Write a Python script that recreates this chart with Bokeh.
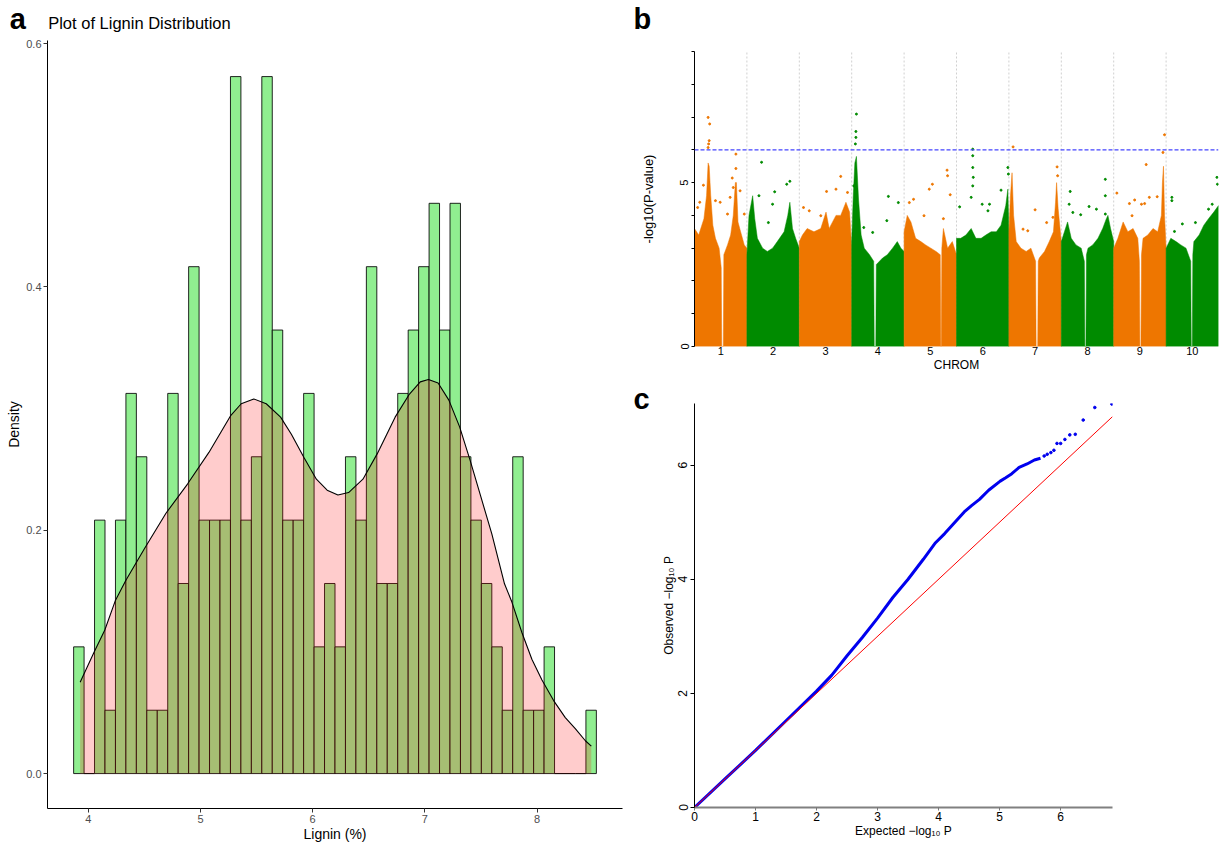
import math
from bokeh.plotting import figure
from bokeh.layouts import row, column
from bokeh.models import Range1d, FixedTicker, Span, NumeralTickFormatter, Title
from bokeh.core.properties import value
from bokeh.embed import file_html
from bokeh.resources import INLINE

FONT = "Liberation Sans"

# ---------------- Panel a : lignin histogram + density ----------------
lignin_bin_start = 3.869
lignin_bin_width = 0.0932
lignin_counts = [2, 0, 4, 1, 4, 6, 5, 1, 1, 6,
                 3, 8, 4, 4, 4, 11, 4, 5, 11, 7,
                 4, 4, 6, 2, 3, 2, 5, 4, 8, 3,
                 3, 6, 7, 8, 9, 7, 9, 5, 4, 3,
                 2, 1, 5, 1, 1, 2, 0, 0, 0, 1]
density_x = [3.927, 4.052, 4.147, 4.240, 4.335, 4.501, 4.692, 4.884, 5.075, 5.267,
             5.363, 5.475, 5.586, 5.714, 5.810, 5.921, 6.033, 6.129, 6.225, 6.320,
             6.448, 6.576, 6.735, 6.863, 6.959, 7.032, 7.118, 7.214, 7.310, 7.405,
             7.501, 7.597, 7.710, 7.776, 7.865, 7.954, 8.044, 8.148, 8.252, 8.341,
             8.431, 8.484]
density_y = [0.075, 0.100, 0.118, 0.142, 0.159, 0.185, 0.214, 0.238, 0.264, 0.294,
             0.304, 0.308, 0.304, 0.293, 0.279, 0.260, 0.242, 0.233, 0.229, 0.231,
             0.242, 0.263, 0.293, 0.312, 0.322, 0.324, 0.321, 0.307, 0.285, 0.257,
             0.227, 0.197, 0.156, 0.141, 0.116, 0.094, 0.077, 0.060, 0.046, 0.037,
             0.027, 0.0225]
a_xticks = [4, 5, 6, 7, 8]
a_yticks = [0.0, 0.2, 0.4, 0.6]

# ---------------- Panel b : Manhattan plot ----------------
chrom_labels = [1, 2, 3, 4, 5, 6, 7, 8, 9, 10]
chrom_colors = ["#EE7600", "#008B00"]
# upper envelope of the dense SNP cloud: position along chromosome (%) and -log10(P)
band_pct = {
    1: [0, 8, 18, 23, 26, 28, 31, 35, 40, 47, 51, 52, 55, 56, 63, 69, 74, 78, 80, 83, 88, 95, 100],
    2: [0, 4, 11, 15, 20, 30, 39, 49, 58, 71, 78, 82, 87, 93, 100],
    3: [0, 6, 15, 28, 41, 51, 57, 70, 79, 89, 96, 100],
    4: [0, 3, 6, 9, 13, 18, 24, 34, 42, 43, 46, 47, 59, 68, 78, 87, 94, 100],
    5: [0, 6, 13, 22, 32, 41, 51, 61, 69, 70, 71, 72, 75, 83, 92, 100],
    6: [0, 8, 18, 28, 37, 47, 56, 66, 76, 85, 94, 98, 100],
    7: [0, 3, 6, 9, 14, 23, 33, 42, 51, 52, 55, 56, 58, 68, 77, 85, 89, 91, 94, 100],
    8: [0, 6, 12, 19, 28, 38, 44, 45, 47, 48, 51, 60, 70, 79, 86, 89, 94, 100],
    9: [0, 8, 18, 27, 37, 46, 49, 50, 52, 53, 56, 65, 75, 84, 91, 93, 95, 97, 100],
    10: [0, 9, 19, 28, 38, 47, 48, 50, 51, 53, 63, 72, 81, 91, 100],
}
band_top = {
    1: [3.6, 3.4, 3.9, 4.6, 5.6, 5.5, 4.6, 3.7, 3.3, 3.0, 2.4, 0, 0, 2.8, 3.1, 3.4, 4.0, 5.0, 5.0, 3.8, 3.5, 3.1, 3.0],
    2: [2.8, 4.0, 4.6, 3.9, 3.3, 3.0, 2.9, 3.0, 3.2, 3.5, 4.0, 4.4, 3.6, 3.3, 3.0],
    3: [3.2, 3.4, 3.6, 3.5, 3.6, 4.1, 3.6, 4.0, 4.0, 4.4, 4.1, 3.0],
    4: [3.2, 4.6, 5.6, 5.8, 4.5, 3.4, 3.0, 2.8, 2.6, 0, 0, 2.5, 2.7, 2.8, 3.0, 3.2, 3.0, 2.9],
    5: [3.5, 4.0, 3.8, 3.3, 3.2, 3.1, 3.0, 2.9, 2.8, 0, 0, 3.0, 3.6, 3.0, 3.2, 2.8],
    6: [3.3, 3.3, 3.4, 3.6, 3.3, 3.3, 3.4, 3.5, 3.5, 3.7, 4.3, 4.8, 3.5],
    7: [3.5, 4.6, 5.3, 4.0, 3.2, 3.0, 2.9, 3.0, 2.6, 0, 0, 2.6, 2.7, 2.9, 3.2, 3.5, 4.4, 5.0, 4.2, 3.2],
    8: [3.2, 3.5, 3.8, 3.3, 3.1, 3.0, 2.6, 0, 0, 2.8, 3.0, 3.1, 3.3, 3.6, 3.9, 4.0, 3.6, 3.2],
    9: [3.0, 3.3, 3.8, 3.5, 3.6, 3.3, 2.6, 0, 0, 2.8, 3.3, 3.4, 3.6, 3.5, 4.0, 5.0, 5.5, 4.0, 3.0],
    10: [3.0, 3.3, 3.2, 3.1, 3.0, 2.6, 0, 0, 2.8, 3.2, 3.4, 3.7, 3.9, 4.1, 4.3],
}
# isolated SNPs above the cloud
snp_pct = {
    1: [26, 29, 28, 27, 26, 17, 10, 6, 40, 49, 63, 72, 79, 79, 74, 87, 95, 68],
    2: [28, 53, 76, 82, 49, 23, 41],
    3: [52, 70, 79, 92, 8, 19, 41],
    4: [9, 8, 8, 7, 4, 70, 89, 23, 40, 67],
    5: [10, 18, 48, 54, 82, 83, 88, 75, 38],
    6: [31, 31, 31, 32, 31, 28, 6, 49, 63, 98, 99, 85, 60],
    7: [8, 50, 92, 93, 72, 84, 27, 36],
    8: [17, 15, 84, 84, 53, 67, 37, 22, 84],
    9: [97, 94, 62, 83, 68, 6, 30, 40, 53, 59, 35],
    10: [11, 11, 97, 98, 88, 81, 31, 16, 56],
}
snp_logp = {
    1: [6.99, 6.79, 6.28, 6.18, 6.07, 4.92, 4.40, 4.24, 4.45, 4.40, 4.04, 5.14, 5.87, 5.43, 4.85, 4.75, 4.04, 4.55],
    2: [5.62, 4.72, 4.95, 5.04, 4.34, 4.60, 3.78],
    3: [4.73, 4.80, 5.19, 4.70, 4.24, 4.14, 3.99],
    4: [7.09, 6.56, 6.38, 6.18, 4.90, 4.58, 4.39, 3.63, 3.48, 3.84],
    5: [4.39, 4.49, 4.80, 4.95, 5.38, 5.21, 4.63, 3.90, 3.99],
    6: [6.02, 5.82, 5.46, 5.16, 4.90, 4.55, 4.26, 4.34, 4.34, 5.46, 5.26, 4.77, 4.14],
    7: [6.09, 4.17, 5.48, 5.21, 3.78, 3.94, 3.58, 3.53],
    8: [4.73, 4.34, 5.10, 4.60, 4.27, 4.19, 4.02, 4.09, 4.04],
    9: [6.46, 5.92, 5.55, 4.57, 4.55, 4.68, 4.36, 4.47, 4.34, 4.36, 3.99],
    10: [4.55, 4.45, 5.16, 4.95, 4.34, 4.19, 3.74, 3.51, 3.78],
}
gwas_threshold = 6.0
b_yticks = [0, 1, 2, 3, 4, 5, 6, 7, 8, 9]

# ---------------- Panel c : QQ plot ----------------
qq_expected = [0, 0.5, 1.0, 1.5, 2.0, 2.25, 2.5, 2.75, 3.0, 3.25, 3.5, 3.75, 3.95, 4.1,
               4.26, 4.42, 4.54, 4.67, 4.82, 5.01, 5.1, 5.2, 5.32, 5.45, 5.57, 5.67]
qq_observed = [0, 0.5, 1.0, 1.52, 2.04, 2.32, 2.66, 2.98, 3.32, 3.68, 4.0, 4.35, 4.64, 4.80,
               4.99, 5.18, 5.29, 5.4, 5.56, 5.72, 5.78, 5.85, 5.96, 6.02, 6.09, 6.12]
qq_tail_expected = [5.73, 5.78, 5.84, 5.89, 5.94, 6.0, 6.07, 6.15, 6.24, 6.37, 6.56, 6.84]
qq_tail_observed = [6.16, 6.19, 6.22, 6.26, 6.38, 6.38, 6.45, 6.53, 6.54, 6.79, 7.01, 7.07]
qq_max = 6.85


def style_axis(ax, size="11px", color="#4D4D4D", tick_color="#333333", tick_out=4, standoff=2,
               label=None, label_size="14px", label_standoff=0):
    ax.axis_line_color = "black"
    ax.axis_line_width = 1
    ax.major_tick_line_color = tick_color
    ax.major_tick_out = tick_out
    ax.major_tick_in = 0
    ax.minor_tick_line_color = None
    ax.major_label_text_font = FONT
    ax.major_label_text_font_size = size
    ax.major_label_text_color = color
    ax.major_label_standoff = standoff
    if label is not None:
        ax.axis_label = label
        ax.axis_label_text_font = FONT
        ax.axis_label_text_font_size = label_size
        ax.axis_label_text_font_style = "normal"
        ax.axis_label_text_color = "black"
        ax.axis_label_standoff = label_standoff


def base_fig(**kw):
    p = figure(output_backend="svg", toolbar_location=None, **kw)
    p.xgrid.visible = False
    p.ygrid.visible = False
    p.outline_line_color = None
    p.background_fill_color = "white"
    p.border_fill_color = "white"
    p.frame_align = False
    return p


def text_strip(w, h, xs, ys, texts, sizes, styles):
    s = base_fig(width=w, height=h, x_range=Range1d(0, w), y_range=Range1d(h, 0),
                 x_axis_location=None, y_axis_location=None,
                 min_border_left=0, min_border_right=0, min_border_top=0, min_border_bottom=0)
    for x, y, t, fs, st in zip(xs, ys, texts, sizes, styles):
        s.text(x=[x], y=[y], text=[t], text_font=value(FONT), text_font_size=value(fs),
               text_font_style=value(st), text_color="black",
               text_align="left", text_baseline="middle")
    return s


# ======== Panel a ========
strip_a = text_strip(628, 34, [9.3, 47.7], [18.0, 22.6], ["a", "Plot of Lignin Distribution"],
                     ["29px", "16.5px"], ["bold", "normal"])

ax0, ax1 = 3.636, 8.762
ay0, ay1 = -0.0287, 0.6026
pa = base_fig(width=628, height=810, x_range=Range1d(ax0, ax1), y_range=Range1d(ay0, ay1),
              min_border_left=47, min_border_right=6, min_border_top=6, min_border_bottom=36)
n_total = sum(lignin_counts)
bin_left = [lignin_bin_start + i * lignin_bin_width for i in range(len(lignin_counts))]
bin_right = [b + lignin_bin_width for b in bin_left]
bin_dens = [c / (n_total * lignin_bin_width) for c in lignin_counts]
pa.quad(left=bin_left, right=bin_right, bottom=0, top=bin_dens,
        fill_color="#90EE90", line_color="black", line_width=1, line_alpha=0.85)
pa.varea(x=density_x, y1=[0] * len(density_x), y2=density_y, fill_color="red", fill_alpha=0.2)
pa.line(density_x, density_y, line_color="black", line_width=1.1)
pa.xaxis.ticker = FixedTicker(ticks=a_xticks)
pa.yaxis.ticker = FixedTicker(ticks=a_yticks)
pa.yaxis.formatter = NumeralTickFormatter(format="0.0")
style_axis(pa.xaxis[0], label="Lignin (%)", label_size="14px", label_standoff=0)
style_axis(pa.yaxis[0], label="Density", label_size="14px", label_standoff=1)

# ======== Panel b ========
strip_b = text_strip(596, 48, [5], [18.0], ["b"], ["29px"], ["bold"])

pb = base_fig(width=596, height=332, x_range=Range1d(0.5, 10.5), y_range=Range1d(0, 9),
              min_border_left=66, min_border_right=6, min_border_top=3, min_border_bottom=34)
bounds = [c + 0.5 for c in chrom_labels[:-1]]
pb.segment(x0=bounds, y0=0, x1=bounds, y1=9, line_color="#D0D0D0", line_dash="2 2", line_width=1)
for c in chrom_labels:
    col = chrom_colors[(c - 1) % 2]
    xs = [c - 0.5] + [c - 0.5 + q / 100.0 for q in band_pct[c]] + [c + 0.5]
    ys = [0] + band_top[c] + [0]
    pb.patch(xs, ys, fill_color=col, line_color=col, line_width=0.5)
    pb.scatter([c - 0.5 + q / 100.0 for q in snp_pct[c]], snp_logp[c], size=2.0,
               fill_color=col, line_color=col)
pb.add_layout(Span(location=gwas_threshold, dimension="width", line_color="#4444FF",
                   line_dash="4 2", line_width=1.2))
pb.xaxis.ticker = FixedTicker(ticks=chrom_labels)
pb.yaxis.ticker = FixedTicker(ticks=b_yticks)
pb.yaxis.major_label_overrides = {t: "" for t in b_yticks if t not in (0, 5)}
style_axis(pb.xaxis[0], size="11px", color="black", tick_out=0, standoff=0,
           label="CHROM", label_size="12px", label_standoff=0)
pb.xaxis.axis_line_color = None
pb.xaxis.major_tick_line_color = None
style_axis(pb.yaxis[0], size="11px", color="black", tick_color="black", tick_out=3, standoff=3,
           label="-log10(P-value)", label_size="13px", label_standoff=22)
pb.yaxis.major_label_orientation = "vertical"

# ======== Panel c ========
pc = base_fig(width=596, height=464, x_range=Range1d(0, qq_max), y_range=Range1d(0, 7.08),
              min_border_left=66, min_border_right=112, min_border_top=23, min_border_bottom=37)
pc.title = Title(text="c", align="left", offset=-61, standoff=-22, text_font=FONT,
                 text_font_size="29px", text_font_style="bold", text_color="black")
pc.line(qq_expected, qq_observed, line_color="#0000EE", line_width=3)
pc.scatter(qq_tail_expected, qq_tail_observed, size=2.6, fill_color="#0000EE", line_color="#0000EE")
pc.line([0, qq_max], [0, qq_max], line_color="red", line_width=1)
pc.xaxis.ticker = FixedTicker(ticks=[0, 1, 2, 3, 4, 5, 6])
pc.yaxis.ticker = FixedTicker(ticks=[0, 2, 4, 6])
style_axis(pc.xaxis[0], size="12px", color="black", tick_color="#777777", tick_out=3, standoff=1,
           label="Expected \u2212log\u2081\u2080 P", label_size="12px", label_standoff=0)
pc.xaxis.axis_line_color = "#808080"
pc.xaxis.axis_line_width = 2
style_axis(pc.yaxis[0], size="12px", color="black", tick_color="black", tick_out=4, standoff=3,
           label="Observed \u2212log\u2081\u2080 P", label_size="12px", label_standoff=0)
pc.yaxis.major_label_orientation = "vertical"

layout = row(column(strip_a, pa), column(strip_b, pb, pc))
open("out.html", "w").write(file_html(layout, INLINE))
